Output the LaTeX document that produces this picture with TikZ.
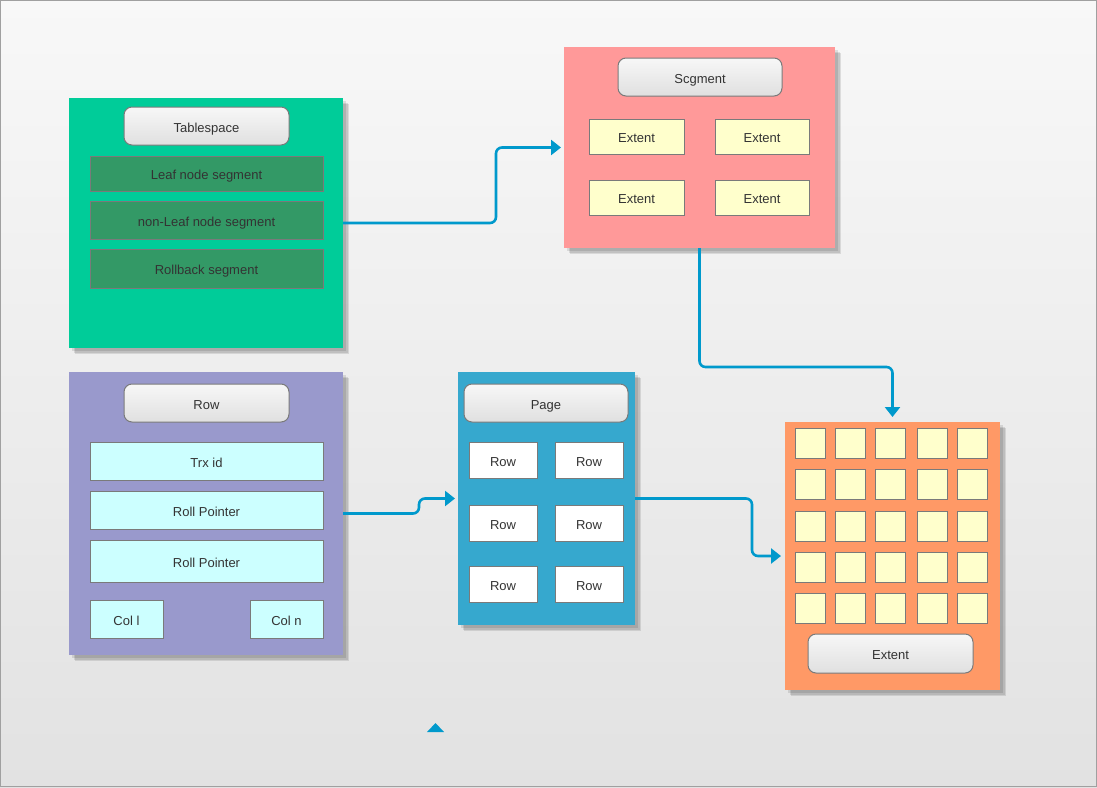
\documentclass[tikz,border=0pt]{standalone}
\usepackage{fontspec}
\setmainfont{Liberation Sans}
\usetikzlibrary{shadows,arrows.meta}
\definecolor{bgtop}{HTML}{F8F8F8}
\definecolor{bgbot}{HTML}{E2E2E2}
\definecolor{frame}{HTML}{A0A0A0}
\definecolor{tscol}{HTML}{00CC99}
\definecolor{segfill}{HTML}{339966}
\definecolor{sgcol}{HTML}{FF9999}
\definecolor{extfill}{HTML}{FFFFCC}
\definecolor{excol}{HTML}{FF9966}
\definecolor{rowcol}{HTML}{9999CC}
\definecolor{fldfill}{HTML}{CCFFFF}
\definecolor{pgcol}{HTML}{36A8CE}
\definecolor{hdrtop}{HTML}{F7F7F7}
\definecolor{hdrbot}{HTML}{E0E0E0}
\definecolor{boxline}{HTML}{7A7A7A}
\definecolor{txt}{HTML}{333333}
\definecolor{conn}{HTML}{0099CC}
\newcommand\pbox[7]{\node[#1, minimum width={#5-#3}, minimum height={#6-#4}] (#2) at (#3,#4) {#7};}
\begin{document}
\begin{tikzpicture}[x=1pt,y=-1pt,
  cont/.style={draw=none, inner sep=0, outer sep=0, anchor=north west,
    drop shadow={shadow xshift=6pt, shadow yshift=-6pt, opacity=0.10, fill=black},
    drop shadow={shadow xshift=4.5pt, shadow yshift=-4.5pt, opacity=0.10, fill=black},
    drop shadow={shadow xshift=3pt, shadow yshift=-3pt, opacity=0.10, fill=black}},
  hdr/.style={draw=boxline, line width=1pt, rounded corners=8pt, top color=hdrtop,
    bottom color=hdrbot, inner sep=0, outer sep=0, anchor=north west,
    font=\fontsize{13}{15}\selectfont, text=txt, text height=12pt, text depth=0pt},
  field/.style={draw=boxline, line width=1pt, inner sep=0, outer sep=0, anchor=north west,
    font=\fontsize{13}{15}\selectfont, text=txt, text height=12pt, text depth=0pt},
  link/.style={draw=conn, line width=2.6pt, rounded corners=6pt,
    -{Triangle[length=10pt,width=15pt]}}
]
\useasboundingbox (0,0) rectangle (1097,787);
\shade[top color=bgtop, bottom color=bgbot] (0,0) rectangle (1097,787);
\draw[frame, line width=1pt] (0.5,0.5) rectangle (1096.5,786.5);

% Tablespace
\pbox{cont, fill=tscol}{ts}{69}{98}{343}{348}{}
\pbox{hdr}{tsh}{124}{107}{289}{145}{Tablespace}
\pbox{field, fill=segfill}{leaf}{90}{156}{323}{191}{Leaf node segment}
\pbox{field, fill=segfill}{nonleaf}{90}{201}{323}{239}{non-Leaf node segment}
\pbox{field, fill=segfill}{rollback}{90}{249}{323}{288}{Rollback segment}

% Segment
\pbox{cont, fill=sgcol}{sg}{564}{47}{835}{248}{}
\pbox{hdr}{sgh}{618}{58}{782}{96}{Scgment}
\pbox{field, fill=extfill}{e11}{589}{119}{684}{154}{Extent}
\pbox{field, fill=extfill}{e12}{715}{119}{809}{154}{Extent}
\pbox{field, fill=extfill}{e21}{589}{180}{684}{215}{Extent}
\pbox{field, fill=extfill}{e22}{715}{180}{809}{215}{Extent}

% Extent container
\pbox{cont, fill=excol}{ex}{785}{422}{1000}{690}{}
\foreach \c/\xx in {1/795,2/835,3/875,4/917,5/957}{
  \foreach \r/\yy in {1/428,2/469,3/511,4/552,5/593}{
    \pbox{field, fill=extfill}{sq\r\c}{\xx}{\yy}{\xx+30}{\yy+30}{}
  }
}
\pbox{hdr}{exh}{808}{634}{973}{673}{Extent}

% Row
\pbox{cont, fill=rowcol}{row}{69}{372}{343}{655}{}
\pbox{hdr}{rowh}{124}{384}{289}{422}{Row}
\pbox{field, fill=fldfill}{trx}{90}{442}{323}{480}{Trx id}
\pbox{field, fill=fldfill}{rp1}{90}{491}{323}{529}{Roll Pointer}
\pbox{field, fill=fldfill}{rp2}{90}{540}{323}{582}{Roll Pointer}
\pbox{field, fill=fldfill}{coll}{90}{600}{163}{638}{Col l}
\pbox{field, fill=fldfill}{coln}{250}{600}{323}{638}{Col n}

% Page
\pbox{cont, fill=pgcol}{pg}{458}{372}{635}{625}{}
\pbox{hdr}{pgh}{464}{384}{628}{422}{Page}
\pbox{field, fill=white}{r11}{469}{442}{537}{478}{Row}
\pbox{field, fill=white}{r12}{555}{442}{623}{478}{Row}
\pbox{field, fill=white}{r21}{469}{505}{537}{541}{Row}
\pbox{field, fill=white}{r22}{555}{505}{623}{541}{Row}
\pbox{field, fill=white}{r31}{469}{566}{537}{602}{Row}
\pbox{field, fill=white}{r32}{555}{566}{623}{602}{Row}

% Connectors
\draw[link, shorten >=3pt] (ts.east) -- (496,223) -- (496,147.5) -- (sg.west);
\draw[link, shorten >=5pt] (sg.south) -- (699.5,367) -- (892.5,367) -- (ex.north);
\draw[link, shorten >=3pt] (row.east) -- (419,513.5) -- (419,498.5) -- (pg.west);
\draw[link, shorten >=4pt] (pg.east) -- (752,498.5) -- (752,556) -- (ex.west);

% stray arrowhead
\fill[conn] (427,732) -- (435.5,723) -- (444,732) -- cycle;
\end{tikzpicture}
\end{document}
